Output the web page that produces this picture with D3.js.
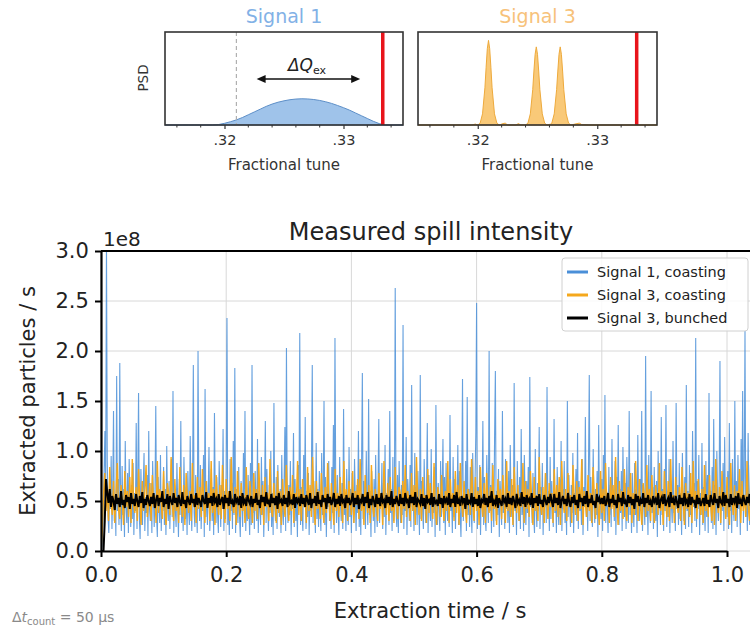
<!DOCTYPE html>
<html>
<head>
<meta charset="utf-8">
<script src="https://cdn.jsdelivr.net/npm/d3@7"></script>
<style>
  body { margin: 0; background: #fff; }
  text { font-family: "DejaVu Sans", sans-serif; }
</style>
</head>
<body>
<div id="chart"></div>
<script>
var width = 750;
var height = 631;

// spill intensity, units of 1e6 particles / s
const sig1Step = 0.00125;
const sig1Coasting = [
  0, 5, 20, 45, 80, 120, 60, 310, 90, 35, 18, 70, 42, 95, 22, 60, 140, 30, 55, 15, 175, 40, 72, 26, 188, 48, 20, 85, 36, 62, 14, 110, 44, 28, 78, 18, 92, 50, 24, 66,
  32, 88, 16, 58, 40, 128, 22, 70, 158, 34, 12, 82, 46, 26, 64, 98, 20, 54, 38, 76, 15, 120, 42, 30, 68, 18, 90, 52, 24, 60, 145, 36, 14, 74, 48, 28, 96, 20, 56, 40,
  84, 26, 62, 16, 105, 44, 30, 70, 22, 58, 92, 34, 160, 18, 66, 40, 24, 88, 50, 14, 72, 36, 130, 28, 56, 20, 94, 46, 32, 64, 16, 80, 42, 26, 115, 54, 20, 68, 186, 38,
  24, 76, 48, 18, 200, 60, 30, 86, 22, 52, 40, 96, 14, 162, 34, 70, 26, 58, 104, 20, 44, 82, 30, 64, 16, 138, 50, 28, 74, 36, 18, 90, 56, 24, 66, 42, 122, 20, 60, 32,
  78, 233, 26, 54, 16, 92, 40, 68, 22, 110, 36, 183, 18, 62, 46, 28, 84, 34, 14, 70, 52, 24, 98, 40, 140, 20, 58, 30, 76, 44, 16, 88, 26, 186, 38, 64, 22, 80, 48, 30,
  112, 18, 60, 42, 26, 94, 36, 70, 14, 56, 130, 28, 82, 46, 20, 66, 38, 100, 24, 58, 16, 148, 44, 30, 74, 22, 86, 50, 34, 62, 18, 96, 40, 26, 70, 124, 20, 203, 48, 28,
  66, 36, 90, 16, 54, 42, 118, 24, 72, 30, 58, 14, 86, 48, 218, 26, 64, 38, 20, 96, 44, 134, 22, 60, 34, 78, 16, 52, 40, 88, 186, 28, 70, 46, 18, 108, 32, 62, 24, 80,
  42, 20, 98, 36, 58, 150, 26, 74, 14, 64, 44, 90, 30, 54, 22, 84, 38, 126, 18, 213, 60, 28, 76, 40, 16, 94, 48, 30, 68, 22, 142, 36, 56, 20, 82, 46, 26, 104, 34, 62,
  18, 78, 44, 28, 92, 54, 20, 66, 38, 120, 24, 58, 16, 86, 178, 32, 70, 42, 22, 100, 48, 26, 152, 36, 60, 14, 80, 50, 30, 72, 18, 96, 40, 24, 64, 132, 28, 56, 44, 88,
  22, 68, 34, 106, 16, 58, 46, 82, 26, 140, 38, 62, 20, 94, 30, 54, 263, 42, 24, 76, 18, 90, 48, 28, 66, 36, 226, 22, 60, 40, 114, 16, 72, 52, 30, 86, 24, 166, 44, 58,
  20, 98, 36, 64, 26, 80, 48, 16, 176, 32, 70, 40, 22, 92, 54, 28, 62, 128, 18, 76, 44, 30, 102, 24, 58, 38, 84, 14, 146, 50, 26, 68, 42, 20, 90, 34, 60, 112, 28, 74,
  16, 88, 46, 30, 64, 24, 136, 40, 56, 18, 94, 34, 72, 22, 60, 48, 106, 26, 80, 38, 14, 66, 172, 30, 52, 44, 90, 20, 154, 36, 62, 24, 84, 42, 18, 98, 50, 28, 70, 118,
  248, 22, 64, 38, 86, 16, 58, 46, 130, 26, 74, 34, 20, 96, 52, 28, 200, 40, 66, 18, 88, 44, 24, 116, 180, 30, 60, 36, 82, 14, 70, 48, 26, 140, 38, 56, 22, 92, 42, 64,
  28, 80, 18, 106, 50, 34, 66, 24, 168, 40, 58, 16, 90, 46, 30, 74, 22, 122, 36, 62, 20, 96, 52, 26, 70, 38, 84, 14, 174, 44, 60, 28, 78, 34, 18, 102, 48, 24, 68, 40,
  124, 22, 64, 36, 88, 16, 56, 44, 78, 28, 164, 40, 60, 20, 94, 32, 70, 46, 24, 132, 38, 58, 18, 84, 50, 26, 72, 36, 110, 20, 62, 42, 90, 28, 54, 16, 150, 34, 76, 46,
  24, 66, 38, 98, 18, 58, 48, 82, 30, 118, 22, 70, 40, 56, 26, 92, 16, 64, 44, 134, 34, 60, 20, 86, 176, 30, 74, 42, 24, 102, 50, 28, 62, 36, 80, 14, 126, 46, 58, 32,
  72, 20, 96, 40, 156, 28, 60, 48, 18, 84, 36, 66, 24, 112, 44, 56, 30, 90, 16, 74, 42, 126, 26, 62, 38, 80, 20, 104, 50, 34, 68, 22, 94, 46, 28, 140, 36, 58, 18, 78,
  44, 24, 88, 36, 62, 18, 116, 50, 30, 72, 40, 140, 20, 66, 46, 26, 195, 34, 58, 16, 96, 42, 28, 160, 38, 64, 22, 84, 48, 30, 70, 14, 100, 44, 56, 26, 134, 36, 62, 20,
  82, 40, 146, 24, 60, 34, 92, 18, 70, 46, 28, 110, 38, 56, 20, 148, 42, 66, 26, 88, 32, 58, 16, 98, 48, 30, 74, 22, 166, 40, 60, 24, 86, 36, 52, 18, 120, 44, 68, 30,
  213, 24, 70, 42, 96, 16, 58, 36, 108, 26, 64, 48, 20, 90, 34, 76, 18, 158, 44, 60, 28, 84, 22, 132, 38, 66, 16, 100, 50, 30, 72, 190, 26, 62, 40, 88, 20, 114, 46, 56,
  34, 80, 22, 128, 40, 64, 18, 92, 48, 30, 150, 36, 70, 24, 96, 42, 58, 16, 112, 44, 160, 28, 76, 220, 34, 62, 20, 118, 46, 26, 86, 38, 142, 22, 66, 50, 30, 100, 40, 60
];

const sig3Step = 0.002;
const sig3Coasting = [
  0, 20, 55, 78, 40, 62, 30, 84, 48, 36, 70, 28, 58, 88, 42, 32, 66, 50, 26, 80, 44, 60, 34, 74, 28, 92, 46, 38, 64, 30, 82, 52, 26, 70, 40, 58, 86, 34, 48, 68,
  30, 76, 44, 56, 28, 90, 38, 62, 50, 32, 80, 42, 26, 68, 58, 36, 94, 46, 30, 72, 40, 54, 28, 84, 48, 34, 66, 26, 78, 52, 38, 60, 30, 88, 44, 56, 28, 74, 42, 64,
  34, 82, 50, 28, 70, 44, 58, 30, 90, 38, 62, 26, 76, 48, 36, 66, 32, 86, 54, 28, 72, 42, 60, 30, 94, 46, 38, 64, 26, 80, 52, 34, 68, 40, 56, 28, 84, 44, 32, 70,
  48, 28, 78, 40, 62, 32, 88, 52, 36, 66, 26, 74, 44, 58, 30, 92, 42, 34, 68, 50, 28, 80, 38, 60, 26, 72, 46, 34, 86, 54, 30, 64, 40, 76, 28, 58, 48, 90, 36, 62,
  30, 72, 44, 56, 28, 84, 40, 66, 34, 94, 50, 26, 70, 42, 60, 32, 78, 46, 28, 64, 38, 88, 52, 30, 68, 44, 26, 82, 40, 58, 34, 74, 48, 28, 90, 42, 62, 30, 70, 54,
  36, 80, 28, 60, 46, 72, 32, 92, 40, 56, 26, 76, 50, 38, 66, 28, 86, 44, 34, 62, 52, 30, 78, 42, 58, 26, 90, 48, 36, 68, 30, 74, 40, 54, 28, 84, 46, 32, 64, 58,
  28, 70, 42, 86, 34, 60, 48, 30, 78, 40, 66, 26, 94, 52, 36, 62, 30, 74, 44, 56, 28, 82, 38, 68, 50, 32, 88, 42, 26, 64, 54, 34, 76, 46, 30, 60, 40, 90, 28, 72,
  44, 58, 30, 80, 38, 66, 26, 88, 50, 34, 70, 42, 28, 62, 56, 36, 92, 46, 30, 74, 40, 60, 26, 84, 48, 34, 68, 28, 78, 52, 38, 64, 30, 86, 42, 56, 26, 72, 46, 62,
  32, 76, 48, 28, 90, 40, 60, 34, 72, 26, 84, 52, 38, 66, 30, 58, 44, 88, 28, 70, 42, 62, 34, 80, 50, 26, 74, 40, 56, 30, 94, 46, 36, 64, 28, 78, 52, 32, 68, 44,
  58, 28, 82, 40, 66, 34, 74, 26, 90, 48, 38, 62, 30, 78, 44, 56, 28, 86, 50, 36, 70, 30, 64, 42, 92, 26, 60, 46, 34, 76, 40, 58, 28, 84, 52, 32, 68, 44, 26, 80,
  38, 62, 30, 88, 46, 56, 28, 74, 42, 66, 34, 94, 50, 26, 70, 40, 60, 32, 82, 48, 30, 64, 44, 78, 28, 58, 36, 90, 52, 30, 72, 42, 26, 68, 56, 34, 86, 40, 62, 30,
  76, 44, 28, 66, 52, 36, 88, 40, 60, 26, 80, 48, 34, 70, 30, 92, 42, 56, 28, 74, 46, 38, 64, 30, 84, 50, 26, 68, 42, 58, 34, 78, 28, 90, 44, 60, 32, 72, 48, 36,
  62, 28, 86, 40, 56, 34, 76, 46, 30, 70, 26, 92, 52, 38, 64, 28, 80, 44, 58, 32, 74, 42, 26, 88, 50, 36, 66, 30, 60, 46, 82, 28, 70, 40, 56, 34, 90, 44, 30, 68
];

const sig3Bunched = [
  0, 0, 0, 30, 72, 58, 48, 62, 44, 55, 50, 41, 57, 47, 53, 44, 60, 46, 51, 43, 56, 49, 54, 42, 58, 47, 52, 45, 57, 50, 44, 55, 48, 59, 43, 52, 46, 56, 50, 45,
  54, 47, 58, 43, 51, 56, 45, 53, 49, 60, 44, 52, 47, 57, 42, 55, 50, 46, 58, 48, 53, 44, 56, 49, 45, 59, 47, 51, 43, 55, 50, 46, 57, 48, 52, 44, 58, 46, 53, 49,
  44, 56, 50, 47, 59, 43, 53, 48, 55, 45, 58, 49, 52, 44, 57, 46, 51, 54, 42, 56, 48, 53, 45, 60, 47, 50, 44, 57, 49, 52, 46, 55, 43, 58, 48, 51, 45, 56, 50, 47,
  55, 44, 52, 48, 58, 46, 51, 43, 56, 49, 54, 45, 59, 47, 50, 44, 57, 48, 53, 46, 55, 42, 58, 49, 51, 45, 56, 47, 53, 44, 60, 48, 50, 46, 57, 43, 54, 49, 52, 45,
  57, 47, 53, 44, 56, 50, 46, 58, 43, 52, 48, 55, 45, 59, 47, 51, 44, 56, 49, 53, 42, 57, 48, 54, 46, 50, 58, 44, 52, 47, 55, 45, 57, 49, 51, 43, 56, 48, 53, 46,
  50, 58, 44, 53, 47, 56, 42, 51, 49, 57, 45, 54, 48, 59, 43, 52, 46, 55, 50, 44, 57, 47, 53, 45, 58, 49, 51, 43, 56, 48, 54, 46, 60, 44, 52, 47, 55, 49, 45, 57,
  47, 53, 45, 58, 49, 51, 43, 56, 48, 54, 46, 59, 44, 52, 50, 47, 57, 45, 53, 42, 56, 49, 51, 46, 58, 44, 54, 48, 50, 45, 57, 47, 53, 43, 55, 49, 52, 46, 58, 44,
  52, 48, 56, 44, 59, 47, 51, 45, 55, 49, 53, 42, 57, 46, 50, 48, 58, 44, 54, 47, 52, 45, 56, 43, 51, 49, 57, 46, 53, 44, 55, 48, 60, 45, 50, 47, 56, 43, 53, 49,
  45, 56, 49, 52, 44, 58, 47, 53, 46, 55, 50, 43, 57, 48, 51, 45, 59, 47, 54, 44, 56, 49, 52, 46, 58, 43, 53, 48, 55, 45, 57, 47, 51, 44, 56, 50, 46, 54, 48, 57,
  50, 44, 57, 48, 53, 46, 59, 43, 51, 55, 47, 52, 45, 58, 49, 44, 54, 48, 56, 46, 51, 43, 57, 49, 53, 45, 55, 47, 60, 44, 52, 48, 56, 46, 50, 43, 57, 49, 53, 47,
  53, 47, 55, 45, 50, 58, 44, 52, 48, 56, 46, 51, 43, 57, 49, 53, 45, 59, 47, 50, 44, 56, 48, 54, 46, 52, 42, 57, 49, 55, 45, 51, 47, 58, 44, 53, 48, 56, 46, 50,
  44, 55, 49, 52, 46, 58, 43, 51, 54, 47, 57, 45, 50, 53, 44, 59, 48, 52, 46, 55, 49, 43, 56, 47, 53, 45, 58, 48, 51, 44, 57, 46, 54, 49, 50, 43, 56, 47, 53, 45,
  49, 53, 45, 57, 47, 51, 44, 56, 50, 46, 58, 48, 52, 43, 55, 49, 47, 59, 45, 56, 48, 52, 44, 57, 46, 53, 49, 55, 43, 58, 47, 51, 45, 56, 50, 46, 54, 48, 57, 45
];

// insets: tune spectra (PSD, relative)
const sig1Tune = d3.range(41).map(i => 0.315 + i * 0.0005);
const sig1Psd = [
  0, 0, 0, 0, 0, 0, 0, 0, 0, 0.005, 0.018, 0.035, 0.055, 0.08, 0.11, 0.14, 0.17, 0.2, 0.225, 0.245,
  0.26, 0.272, 0.279, 0.282, 0.28, 0.274, 0.264, 0.25, 0.232, 0.21, 0.186, 0.16, 0.13, 0.1, 0.07, 0.04,
  0.015, 0, 0, 0, 0
];
const sig3Tune = [
  0.315, 0.3195, 0.3198, 0.3200,
  0.3202, 0.3204, 0.3206, 0.3207, 0.3208, 0.3209, 0.3210, 0.3211, 0.3212, 0.3214, 0.3216, 0.3218,
  0.3221, 0.3223, 0.3225, 0.3232, 0.3234, 0.3236,
  0.3240, 0.3242, 0.3244, 0.3246, 0.3247, 0.3248, 0.3249, 0.3250, 0.3251, 0.3252, 0.3254, 0.3256, 0.3258,
  0.3261, 0.3262, 0.3264, 0.3266, 0.3267, 0.3268, 0.3269, 0.3270, 0.3271, 0.3272, 0.3274, 0.3276, 0.3278,
  0.3283, 0.3285, 0.3287, 0.3293, 0.335
];
const sig3Psd = [
  0, 0, 0.01, 0,
  0.02, 0.12, 0.4, 0.62, 0.82, 0.91, 0.82, 0.62, 0.4, 0.12, 0.02, 0,
  0.015, 0.02, 0, 0, 0.015, 0,
  0, 0.02, 0.12, 0.38, 0.58, 0.76, 0.84, 0.76, 0.58, 0.38, 0.12, 0.02, 0,
  0.01, 0.02, 0.12, 0.38, 0.58, 0.76, 0.84, 0.76, 0.58, 0.38, 0.12, 0.02, 0,
  0.015, 0.02, 0.005, 0, 0
];
const resonanceTune = 0.3333;
const sig1DashTune = 0.321;
const dqArrow = [0.3227, 0.3314];

const xTicks = [0, 0.2, 0.4, 0.6, 0.8, 1.0];
const yTicks = [0, 0.5e8, 1e8, 1.5e8, 2e8, 2.5e8, 3e8];
const legendLabels = ["Signal 1, coasting", "Signal 3, coasting", "Signal 3, bunched"];

const blue = "#4a8fd8";
const orange = "#f5a81c";

const svg = d3.select("#chart")
    .append("svg")
    .attr("width", width)
    .attr("height", height);

// ---------- main plot ----------
const pLeft = 101, pRight = 770, pTop = 251, pBottom = 551;
const x = d3.scaleLinear().domain([0, 1]).range([pLeft, 727]);
const y = d3.scaleLinear().domain([0, 3e8]).range([pBottom, pTop]);

svg.append("defs").append("clipPath").attr("id", "clip")
    .append("rect").attr("x", pLeft).attr("y", pTop).attr("width", pRight - pLeft).attr("height", pBottom - pTop);

// grid
svg.append("g").selectAll("line").data(xTicks).enter().append("line")
    .attr("x1", d => x(d)).attr("x2", d => x(d)).attr("y1", pTop).attr("y2", pBottom)
    .attr("stroke", "#d8d8d8").attr("stroke-width", 1);
svg.append("g").selectAll("line").data(yTicks).enter().append("line")
    .attr("x1", pLeft).attr("x2", pRight).attr("y1", d => y(d)).attr("y2", d => y(d))
    .attr("stroke", "#d8d8d8").attr("stroke-width", 1);

const plot = svg.append("g").attr("clip-path", "url(#clip)");

function seriesLine(step) {
    return d3.line()
        .x((d, i) => x(i * step))
        .y(d => y(d * 1e6));
}

plot.append("path").datum(sig1Coasting)
    .attr("fill", "none").attr("stroke", blue).attr("stroke-width", 1.1).attr("stroke-opacity", 0.85)
    .attr("d", seriesLine(sig1Step));
plot.append("path").datum(sig3Coasting)
    .attr("fill", "none").attr("stroke", orange).attr("stroke-width", 1.4)
    .attr("d", seriesLine(sig3Step));
plot.append("path").datum(sig3Bunched)
    .attr("fill", "none").attr("stroke", "#000").attr("stroke-width", 2)
    .attr("d", seriesLine(sig3Step));

// axes
const xAxis = svg.append("g").attr("transform", "translate(0," + pBottom + ")")
    .call(d3.axisBottom(x).tickValues(xTicks).tickFormat(d3.format(".1f")).tickSize(6).tickSizeOuter(0));
const yAxis = svg.append("g").attr("transform", "translate(" + pLeft + ",0)")
    .call(d3.axisLeft(y).tickValues(yTicks).tickFormat(d => (d / 1e8).toFixed(1)).tickSize(6).tickSizeOuter(0));
[xAxis, yAxis].forEach(function (a) {
    a.select(".domain").attr("stroke", "#000").attr("stroke-width", 2.2);
    a.selectAll(".tick line").attr("stroke", "#000").attr("stroke-width", 2);
    a.selectAll(".tick text").attr("font-size", 21).attr("fill", "#222")
        .attr("font-family", "DejaVu Sans, sans-serif");
});
xAxis.selectAll(".tick text").attr("dy", "1.05em");
yAxis.selectAll(".tick text").attr("dx", "-0.15em");
svg.append("line").attr("x1", pLeft).attr("x2", pRight).attr("y1", pTop).attr("y2", pTop)
    .attr("stroke", "#000").attr("stroke-width", 2.2);

svg.append("text").attr("x", 103).attr("y", 246).attr("font-size", 20).attr("fill", "#222").text("1e8");
svg.append("text").attr("x", 431).attr("y", 240).attr("text-anchor", "middle")
    .attr("font-size", 24).attr("fill", "#222").text("Measured spill intensity");
svg.append("text").attr("x", 430).attr("y", 618).attr("text-anchor", "middle")
    .attr("font-size", 21).attr("fill", "#222").text("Extraction time / s");
svg.append("text").attr("transform", "translate(35,401) rotate(-90)").attr("text-anchor", "middle")
    .attr("font-size", 21).attr("fill", "#222").text("Extracted particles / s");

const dt = svg.append("text").attr("x", 12).attr("y", 622).attr("font-size", 14).attr("fill", "#8a8a8a");
dt.append("tspan").text("Δ");
dt.append("tspan").attr("font-style", "italic").text("t");
dt.append("tspan").attr("font-size", 10).attr("dy", 3).text("count");
dt.append("tspan").attr("dy", -3).text(" = 50 μs");

// legend
const lg = svg.append("g");
lg.append("rect").attr("x", 562).attr("y", 258).attr("width", 186).attr("height", 73).attr("rx", 3)
    .attr("fill", "#fff").attr("fill-opacity", 0.85).attr("stroke", "#d0d0d0");
const legendColors = [blue, orange, "#000"];
legendLabels.forEach(function (lab, i) {
    const ly = 272 + i * 23;
    lg.append("line").attr("x1", 567).attr("x2", 588).attr("y1", ly).attr("y2", ly)
        .attr("stroke", legendColors[i]).attr("stroke-width", 3);
    lg.append("text").attr("x", 597).attr("y", ly + 5).attr("font-size", 14.5).attr("fill", "#222").text(lab);
});

// ---------- insets ----------
function inset(x0, x1, title, titleColor, tune, psd, fill, stroke, showPsd) {
    const iy0 = 32, iy1 = 125;
    const ix = d3.scaleLinear().domain([0.315, 0.335]).range([x0, x1]);
    const iy = d3.scaleLinear().domain([0, 1]).range([iy1, iy0]);
    const g = svg.append("g");

    g.append("path").datum(psd)
        .attr("fill", fill).attr("stroke", stroke).attr("stroke-width", 1)
        .attr("d", d3.area().x((d, i) => ix(tune[i])).y0(iy1).y1(d => iy(d)));

    if (showPsd) {
        g.append("line").attr("x1", ix(sig1DashTune)).attr("x2", ix(sig1DashTune))
            .attr("y1", iy0).attr("y2", iy1).attr("stroke", "#b0b0b0").attr("stroke-width", 1.2)
            .attr("stroke-dasharray", "4,3");
        const ay = 79;
        g.append("line").attr("x1", ix(dqArrow[0]) + 4).attr("x2", ix(dqArrow[1]) - 4)
            .attr("y1", ay).attr("y2", ay).attr("stroke", "#111").attr("stroke-width", 1.4);
        g.append("path").attr("d", "M" + ix(dqArrow[0]) + "," + ay + " l9,-4 l0,8 z").attr("fill", "#111");
        g.append("path").attr("d", "M" + ix(dqArrow[1]) + "," + ay + " l-9,-4 l0,8 z").attr("fill", "#111");
        const dq = g.append("text").attr("x", 307).attr("y", 71).attr("text-anchor", "middle")
            .attr("font-size", 17).attr("fill", "#222");
        dq.append("tspan").attr("font-style", "italic").text("ΔQ");
        dq.append("tspan").attr("font-size", 11).attr("dy", 3).text("ex");
        g.append("text").attr("transform", "translate(148,78) rotate(-90)").attr("text-anchor", "middle")
            .attr("font-size", 13.5).attr("fill", "#333").text("PSD");
    }

    g.append("line").attr("x1", ix(resonanceTune)).attr("x2", ix(resonanceTune))
        .attr("y1", iy0).attr("y2", iy1).attr("stroke", "#e8141b").attr("stroke-width", 3.5);

    g.append("rect").attr("x", x0).attr("y", iy0).attr("width", x1 - x0).attr("height", iy1 - iy0)
        .attr("fill", "none").attr("stroke", "#333").attr("stroke-width", 1.6);

    const ax = g.append("g").attr("transform", "translate(0," + iy1 + ")")
        .call(d3.axisBottom(ix).tickValues([0.32, 0.33]).tickFormat(d => d3.format(".2f")(d).slice(1))
            .tickSize(4).tickSizeOuter(0));
    ax.select(".domain").remove();
    ax.selectAll(".tick line").attr("stroke", "#333").attr("stroke-width", 1.2);
    ax.selectAll(".tick text").attr("font-size", 14.5).attr("fill", "#333")
        .attr("font-family", "DejaVu Sans, sans-serif").attr("dy", "0.9em");
    g.append("g").selectAll("line").data([0.316, 0.318, 0.322, 0.324, 0.326, 0.328, 0.332, 0.334])
        .enter().append("line")
        .attr("x1", d => ix(d)).attr("x2", d => ix(d)).attr("y1", iy1).attr("y2", iy1 + 2.5)
        .attr("stroke", "#333").attr("stroke-width", 1);

    g.append("text").attr("x", (x0 + x1) / 2).attr("y", 170).attr("text-anchor", "middle")
        .attr("font-size", 15).attr("fill", "#333").text("Fractional tune");
    g.append("text").attr("x", (x0 + x1) / 2).attr("y", 23).attr("text-anchor", "middle")
        .attr("font-size", 19).attr("fill", titleColor).text(title);
}

inset(165, 403, "Signal 1", "#82b1e6", sig1Tune, sig1Psd, "#9fc3ea", "#5d8fc8", true);
inset(418, 657, "Signal 3", "#f7c27a", sig3Tune, sig3Psd, "#f9c978", "#eeaa3c", false);
</script>
</body>
</html>
